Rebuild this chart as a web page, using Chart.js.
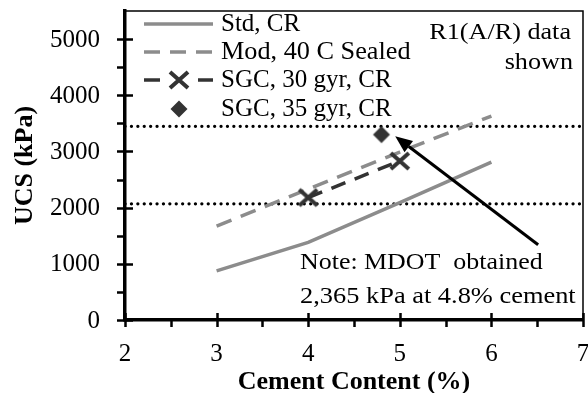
<!DOCTYPE html>
<html>
<head>
<meta charset="utf-8">
<script src="https://cdn.jsdelivr.net/npm/chart.js@4.4.0/dist/chart.umd.min.js"></script>
<style>
  html, body { margin: 0; padding: 0; background: #fff; overflow: hidden; }
  #wrap { width: 588px; height: 393px; }
  canvas { display: block; }
</style>
</head>
<body>
<div id="wrap"><canvas id="ucsChart" width="588" height="393"></canvas></div>
<script>
// cement content (%) and UCS (kPa) per mix
var stdX = [3, 4, 5, 6];
var stdUcs = [875, 1380, 2090, 2810];
var modX = [3, 4, 5, 6];
var modUcs = [1670, 2330, 2990, 3630];
var sgc30X = [4, 5];
var sgc30Ucs = [2180, 2830];
var sgc35X = [4.8];
var sgc35Ucs = [3300];
// 300 psi and 500 psi reference levels
var limitUcs = [2068, 3447];
var xTickValues = [2, 3, 4, 5, 6, 7];
var yTickValues = [0, 1000, 2000, 3000, 4000, 5000];
var seriesNames = ['Std, CR', 'Mod, 40 C Sealed', 'SGC, 30 gyr, CR', 'SGC, 35 gyr, CR'];
var noteLines = ['Note: MDOT  obtained', '2,365 kPa at 4.8% cement'];
var sourceLines = ['R1(A/R) data', 'shown'];

var GREY = '#8c8c8c';
var DARK = '#333333';
var SERIF = '"Liberation Serif", "Times New Roman", serif';

// marker sprites (image point styles don't widen the layout padding)
function sprite(w, h, paint) {
  var c = document.createElement('canvas');
  c.width = w; c.height = h;
  paint(c.getContext('2d'), w / 2, h / 2);
  return c;
}
var crossMark = sprite(24, 22, function(g, cx, cy) {
  g.strokeStyle = DARK;
  g.lineWidth = 4;
  g.beginPath();
  g.moveTo(cx - 9, cy - 8); g.lineTo(cx + 9, cy + 8);
  g.moveTo(cx + 9, cy - 8); g.lineTo(cx - 9, cy + 8);
  g.stroke();
});
var diamondMark = sprite(20, 20, function(g, cx, cy) {
  g.fillStyle = DARK;
  g.beginPath();
  g.moveTo(cx, cy - 8.5); g.lineTo(cx + 8.5, cy);
  g.lineTo(cx, cy + 8.5); g.lineTo(cx - 8.5, cy);
  g.closePath();
  g.fill();
});

function pts(xs, ys) {
  var out = [];
  for (var i = 0; i < xs.length; i++) out.push({ x: xs[i], y: ys[i] });
  return out;
}

function limitLine(v) {
  return {
    label: 'limit',
    data: [{ x: 2, y: v }, { x: 7, y: v }],
    showLine: true,
    borderColor: '#000',
    borderWidth: 3.2,
    borderDash: [0.1, 6.3],
    borderCapStyle: 'round',
    pointRadius: 0,
    order: 5
  };
}

// text stretched a little wider than the font's own widths
function wideText(ctx, str, x, y, align, sx) {
  ctx.save();
  ctx.translate(x, y);
  ctx.scale(sx, 1);
  ctx.textAlign = align;
  ctx.fillText(str, 0, 0);
  ctx.restore();
}

// frame, ticks and their labels, legend, notes and arrow
var decor = {
  id: 'decor',
  afterDatasetsDraw: function(chart) {
    var ctx = chart.ctx, a = chart.chartArea;
    var xs = chart.scales.x, ys = chart.scales.y;
    ctx.save();

    // thin top/right frame
    ctx.strokeStyle = '#000';
    ctx.lineWidth = 1.5;
    ctx.beginPath();
    ctx.moveTo(a.left, a.top);
    ctx.lineTo(a.right, a.top);
    ctx.lineTo(a.right, a.bottom);
    ctx.stroke();

    // tick marks
    ctx.lineWidth = 2.5;
    ctx.beginPath();
    for (var v = 0; v <= 5000; v += 500) {
      var py = Math.round(ys.getPixelForValue(v)) + 0.5;
      var major = v % 1000 === 0;
      ctx.moveTo(a.left - 8, py);
      ctx.lineTo(major ? a.left + 8 : a.left, py);
    }
    for (var t = 2; t <= 7; t += 0.5) {
      var px = Math.round(xs.getPixelForValue(t)) + 0.5;
      var whole = t % 1 === 0;
      ctx.moveTo(px, whole ? a.bottom - 7 : a.bottom);
      ctx.lineTo(px, a.bottom + 7);
    }
    ctx.stroke();

    // tick labels
    ctx.fillStyle = '#000';
    ctx.font = '25px ' + SERIF;
    ctx.textBaseline = 'middle';
    ctx.textAlign = 'right';
    yTickValues.forEach(function(val) {
      ctx.fillText(String(val), a.left - 25, ys.getPixelForValue(val) + 1);
    });
    ctx.textAlign = 'center';
    xTickValues.forEach(function(val) {
      ctx.fillText(String(val), xs.getPixelForValue(val), a.bottom + 34);
    });

    // legend
    var lx0 = 144, lx1 = 213, tx = 221;
    var rows = [24, 52, 80, 109];
    ctx.lineCap = 'butt';
    ctx.lineWidth = 3.5;
    ctx.strokeStyle = GREY;
    ctx.beginPath(); ctx.moveTo(lx0, rows[0]); ctx.lineTo(lx1, rows[0]); ctx.stroke();
    ctx.setLineDash([16, 10]);
    ctx.beginPath(); ctx.moveTo(lx0, rows[1]); ctx.lineTo(lx1, rows[1]); ctx.stroke();
    ctx.setLineDash([]);
    ctx.strokeStyle = DARK;
    ctx.beginPath();
    ctx.moveTo(lx0, rows[2]); ctx.lineTo(lx0 + 16, rows[2]);
    ctx.moveTo(lx1 - 15, rows[2]); ctx.lineTo(lx1, rows[2]);
    ctx.stroke();
    var cx = 179;
    ctx.drawImage(crossMark, cx - crossMark.width / 2, rows[2] - crossMark.height / 2);
    ctx.drawImage(diamondMark, cx - diamondMark.width / 2, rows[3] - diamondMark.height / 2);

    ctx.fillStyle = '#000';
    ctx.font = '25px ' + SERIF;
    for (var i = 0; i < seriesNames.length; i++) {
      wideText(ctx, seriesNames[i], tx, rows[i], 'left', i === 1 ? 1.05 : 1);
    }

    ctx.font = '24px ' + SERIF;
    wideText(ctx, sourceLines[0], 571, 33, 'right', 1.09);
    wideText(ctx, sourceLines[1], 573, 63, 'right', 1.09);

    wideText(ctx, noteLines[0], 300, 263, 'left', 1.08);
    wideText(ctx, noteLines[1], 300, 297, 'left', 1.1);

    // arrow pointing at the 35 gyr result
    var x0 = xs.getPixelForValue(6.51), y0 = ys.getPixelForValue(1340);
    var x1 = xs.getPixelForValue(4.95), y1 = ys.getPixelForValue(3270);
    var ang = Math.atan2(y1 - y0, x1 - x0);
    var head = 17, half = 7;
    var bx = x1 - head * Math.cos(ang), by = y1 - head * Math.sin(ang);
    ctx.strokeStyle = '#000';
    ctx.lineWidth = 3;
    ctx.beginPath(); ctx.moveTo(x0, y0); ctx.lineTo(bx, by); ctx.stroke();
    ctx.fillStyle = '#000';
    ctx.beginPath();
    ctx.moveTo(x1, y1);
    ctx.lineTo(bx + half * Math.sin(ang), by - half * Math.cos(ang));
    ctx.lineTo(bx - half * Math.sin(ang), by + half * Math.cos(ang));
    ctx.closePath(); ctx.fill();

    ctx.restore();
  }
};

var ctx = document.getElementById('ucsChart');
var chart = new Chart(ctx, {
  type: 'scatter',
  data: {
    datasets: [
      limitLine(limitUcs[0]),
      limitLine(limitUcs[1]),
      {
        label: seriesNames[0],
        data: pts(stdX, stdUcs),
        showLine: true,
        borderColor: GREY,
        borderWidth: 3.5,
        pointRadius: 0,
        order: 4
      },
      {
        label: seriesNames[1],
        data: pts(modX, modUcs),
        showLine: true,
        borderColor: GREY,
        borderWidth: 3.5,
        borderDash: [16, 10],
        pointRadius: 0,
        order: 3
      },
      {
        label: seriesNames[2],
        data: pts(sgc30X, sgc30Ucs),
        showLine: true,
        borderColor: DARK,
        borderWidth: 3.5,
        borderDash: [15, 10],
        pointStyle: crossMark,
        pointRadius: 1,
        pointBorderWidth: 0,
        order: 2
      },
      {
        label: seriesNames[3],
        data: pts(sgc35X, sgc35Ucs),
        pointStyle: diamondMark,
        pointRadius: 1,
        pointBorderWidth: 0,
        order: 1
      }
    ]
  },
  options: {
    responsive: false,
    animation: false,
    layout: { padding: { left: 0, right: 5, top: 11, bottom: 0 } },
    plugins: { legend: { display: false }, tooltip: { enabled: false } },
    scales: {
      x: {
        type: 'linear',
        min: 2,
        max: 7,
        afterFit: function(s) { s.height = 73; },
        grid: { display: false, drawTicks: false },
        border: { display: true, color: '#000', width: 3.5 },
        ticks: { display: false, stepSize: 1 },
        title: {
          display: true,
          text: 'Cement Content (%)',
          color: '#000',
          font: { family: SERIF, size: 26, weight: 'bold', lineHeight: 0.85 },
          padding: { top: 0, bottom: 0 }
        }
      },
      y: {
        min: 0,
        max: 5500,
        afterFit: function(s) { s.width = 125; },
        grid: { display: false, drawTicks: false },
        border: { display: true, color: '#000', width: 3.5 },
        ticks: { display: false, stepSize: 500 },
        title: {
          display: true,
          text: 'UCS (kPa)',
          color: '#000',
          font: { family: SERIF, size: 26, weight: 'bold', lineHeight: 1 },
          padding: { top: 12, bottom: 0 }
        }
      }
    }
  },
  plugins: [decor]
});
</script>
</body>
</html>
